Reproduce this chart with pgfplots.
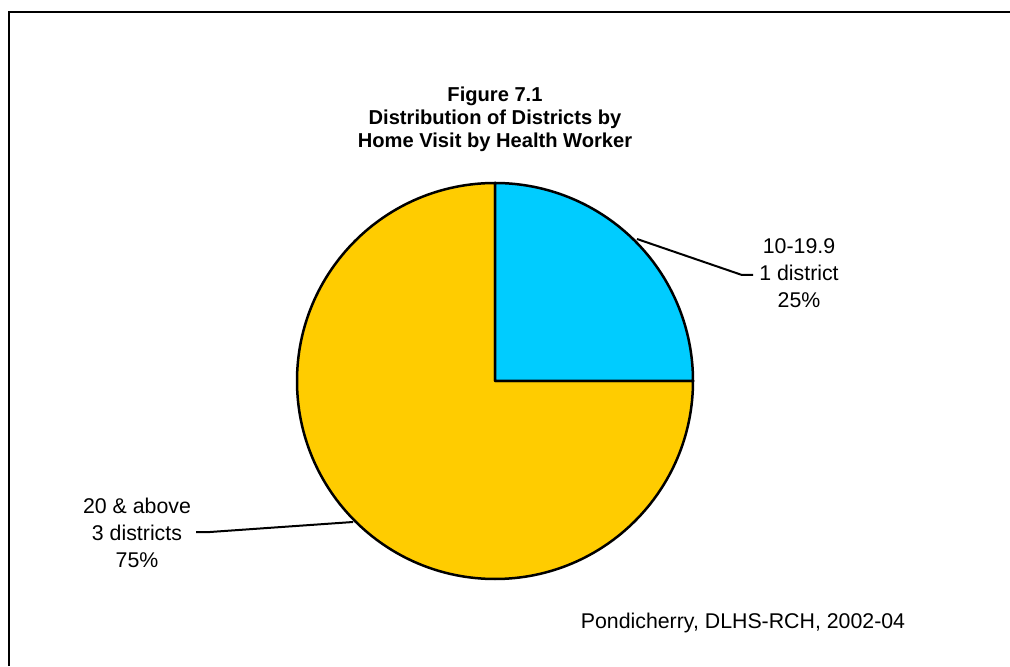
\documentclass[border=0pt]{standalone}
\usepackage{pgfplots}
\pgfplotsset{compat=1.18}
\usepackage{pgfplotstable}
\usepackage{fontspec}
\setmainfont{Liberation Sans}
\definecolor{pieblue}{HTML}{00CCFF}
\definecolor{pieyellow}{HTML}{FFCC00}
\pgfplotstableread{
share districts
25 1
75 3
}\piedata
\begin{document}
\begin{tikzpicture}
\begin{axis}[
  width=1010bp, height=666bp, scale only axis,
  xmin=0, xmax=1010, ymin=0, ymax=666,
  hide axis, clip=false,
]
\pgfplotstablegetelem{0}{share}\of\piedata
\pgfmathsetmacro\aEnd{90-3.6*\pgfplotsretval}
% border
\draw[line width=2bp] (axis cs:9,0) -- (axis cs:9,654) -- (axis cs:1010,654);
% slices
\filldraw[fill=pieyellow, line width=2.5bp, line join=round]
  (axis cs:495,285) -- (axis cs:693,285) arc[start angle=\aEnd, end angle=-270, radius=198bp] -- cycle;
\filldraw[fill=pieblue, line width=2.5bp, line join=round]
  (axis cs:495,285) -- (axis cs:495,483) arc[start angle=90, end angle=\aEnd, radius=198bp] -- cycle;
% leader lines
\draw[line width=2bp] (axis cs:637,427) -- (axis cs:742,391) -- (axis cs:753,391);
\draw[line width=2bp] (axis cs:353,144) -- (axis cs:210,134) -- (axis cs:196,134);
% title
\begin{scope}[every node/.style={anchor=base, font=\bfseries\fontsize{20.2}{24}\selectfont}]
\node at (axis cs:495,564) {Figure 7.1};
\node at (axis cs:495,541) {Distribution of Districts by};
\node at (axis cs:495,518) {Home Visit by Health Worker};
\end{scope}
\begin{scope}[every node/.style={anchor=base, font=\fontsize{21.4}{25}\selectfont}]
\node at (axis cs:799,412.5) {10-19.9};
\node at (axis cs:799,385.5) {1 district};
\node at (axis cs:799,358.5) {25\%};
\node at (axis cs:137,153) {20 \& above};
\node at (axis cs:137,126) {3 districts};
\node at (axis cs:137,99) {75\%};
\node at (axis cs:743,38) {Pondicherry, DLHS-RCH, 2002-04};
\end{scope}
\end{axis}
\pgfresetboundingbox
\path[use as bounding box] (current axis.south west) rectangle (current axis.north east);
\end{tikzpicture}
\end{document}
